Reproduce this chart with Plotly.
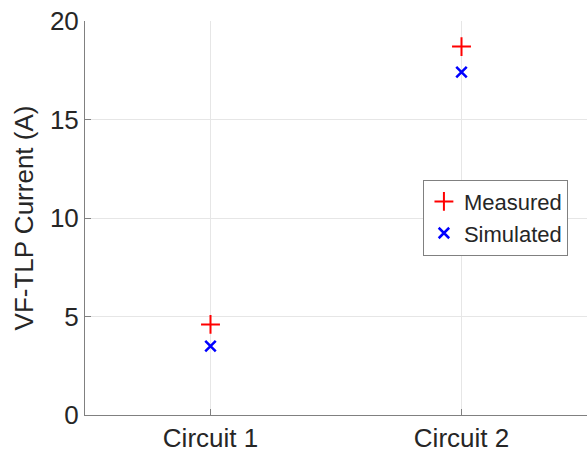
import plotly.graph_objects as go

circuits = ["Circuit 1", "Circuit 2"]
measured = [4.6, 18.7]
simulated = [3.5, 17.4]
y_ticks = [0, 5, 10, 15, 20]

FONT = "Liberation Sans"
TXT = "#262626"
AX = "#808080"

fig = go.Figure()
fig.add_trace(go.Scatter(
    x=circuits, y=measured, mode="markers", name="Measured",
    marker=dict(symbol="cross-thin-open", size=13.5, color="#ff0000",
                line=dict(color="#ff0000", width=2)),
))
fig.add_trace(go.Scatter(
    x=circuits, y=simulated, mode="markers", name="Simulated",
    marker=dict(symbol="x-thin-open", size=10.5, color="#0000ff",
                line=dict(color="#0000ff", width=2.5)),
))

fig.update_layout(
    width=587, height=453,
    margin=dict(l=85, r=0, t=21, b=35),
    paper_bgcolor="white", plot_bgcolor="white",
    font=dict(family=FONT, color=TXT, size=26),
    showlegend=True,
    legend=dict(
        x=0.962, y=0.501, xanchor="right", yanchor="middle",
        bgcolor="white", bordercolor=AX, borderwidth=1,
        font=dict(family=FONT, size=22, color=TXT),
        tracegroupgap=0,
    ),
    xaxis=dict(
        type="category", range=[-0.5, 1.5],
        showgrid=True, gridcolor="#e6e6e6", gridwidth=1,
        showline=True, linecolor=AX, linewidth=1,
        ticks="inside", ticklen=6, tickcolor=AX,
        tickfont=dict(family=FONT, size=26, color=TXT),
        zeroline=False, mirror=False,
    ),
    yaxis=dict(
        range=[0, 20], tickvals=y_ticks,
        showgrid=True, gridcolor="#e6e6e6", gridwidth=1,
        showline=True, linecolor=AX, linewidth=1,
        ticks="inside", ticklen=6, tickcolor=AX,
        tickfont=dict(family=FONT, size=26, color=TXT),
        zeroline=False, mirror=False,
        title=dict(text="VF-TLP Current (A)", standoff=8,
                   font=dict(family=FONT, size=26, color=TXT)),
    ),
)

fig.write_html("out.html")
